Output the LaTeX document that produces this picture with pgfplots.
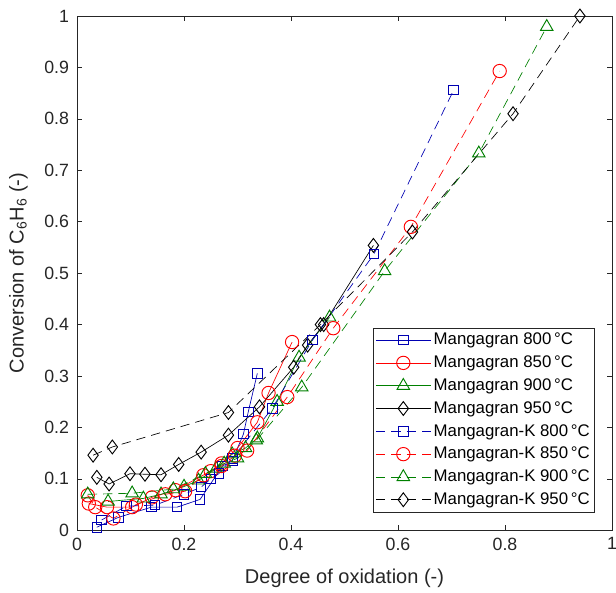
\documentclass[border=0pt]{standalone}
\usepackage{pgfplots}
\pgfplotsset{compat=1.18}
\usetikzlibrary{calc}
\usepackage{fontspec}
\setmainfont{Liberation Sans}
\definecolor{mblue}{rgb}{0,0,0.7}
\definecolor{mred}{rgb}{1,0,0}
\definecolor{mgreen}{rgb}{0,0.5,0}
\begin{document}
\begin{tikzpicture}
\begin{axis}[
  name=ax,
  scale only axis,
  width=401pt, height=385.5pt,
  xmin=0, xmax=1, ymin=0, ymax=1,
  xtick={0,0.2,...,1.0}, ytick={0,0.1,...,1.0},
  xticklabels={0,0.2,0.4,0.6,0.8,1},
  yticklabels={0,0.1,0.2,0.3,0.4,0.5,0.6,0.7,0.8,0.9,1},
  tick align=inside,
  major tick length=4pt,
  axis line style={black!85, line width=0.6pt},
  every tick/.style={black!85, line width=0.5pt},
  tick label style={font=\fontsize{13.3}{15}\selectfont, black!85},
  xticklabel style={yshift=-2pt},
  yticklabel style={xshift=-2.5pt},
  /pgf/number format/assume math mode=true,
  label style={font=\fontsize{15}{17}\selectfont, black!85},
  xlabel={Degree of oxidation (-)},
  ylabel={Conversion of C\textsubscript{6}H\textsubscript{6} (-)},
  xlabel style={at={(axis description cs:0.5,-0.0934)}, anchor=center},
  ylabel style={at={(axis description cs:-0.1097,0.5)}, anchor=center},
  legend style={at={(0.968,0.035)}, anchor=south east, draw=black!85, line width=0.5pt,
    font=\fontsize{12.6}{15}\selectfont, cells={anchor=west}, row sep=2.8pt,
    inner xsep=1.5pt, inner ysep=2pt},
  legend image code/.code={
    \draw[mark repeat=2,mark phase=2] plot coordinates {(0cm,0cm) (0.72cm,0cm) (1.44cm,0cm)};},
  every axis plot/.append style={line width=0.5pt},
]
% Mangagran 800 (solid)
\addplot[mblue, mark=square, mark size=3.6pt, mark options={solid, line width=0.7pt}] coordinates {
(0.037,0.006) (0.077,0.025) (0.139,0.045) (0.187,0.045) (0.230,0.060) (0.272,0.125) (0.290,0.135) (0.311,0.187) (0.320,0.230) (0.337,0.305)};
\addlegendentry{Mangagran 800\,°C}
% Mangagran 850 (solid)
\addplot[mred, mark=o, mark size=5pt, mark options={solid, line width=0.7pt}] coordinates {
(0.022,0.052) (0.056,0.045) (0.103,0.045) (0.140,0.064) (0.184,0.078) (0.250,0.115) (0.270,0.130) (0.300,0.160) (0.337,0.210) (0.358,0.267) (0.402,0.366)};
\addlegendentry{Mangagran 850\,°C}
% Mangagran 900 (solid)
\addplot[mgreen, mark=triangle, mark size=5.4pt, mark options={solid, line width=0.7pt}] coordinates {
(0.058,0.056) (0.124,0.062) (0.157,0.070) (0.200,0.085) (0.227,0.097) (0.260,0.120) (0.290,0.148) (0.315,0.160) (0.337,0.179) (0.374,0.250) (0.415,0.336) (0.472,0.414)};
\addlegendentry{Mangagran 900\,°C}
% Mangagran 950 (solid)
\addplot[black, mark=diamond, mark size=5.2pt, mark options={solid, line width=0.7pt}] coordinates {
(0.037,0.103) (0.060,0.090) (0.099,0.110) (0.127,0.109) (0.157,0.108) (0.190,0.128) (0.232,0.152) (0.283,0.185) (0.341,0.240) (0.405,0.317) (0.431,0.360) (0.461,0.400) (0.554,0.554)};
\addlegendentry{Mangagran 950\,°C}
% Mangagran-K 800 (dashed)
\addplot[mblue, dash pattern=on 7pt off 4.5pt, mark=square, mark size=3.6pt, mark options={solid, line width=0.7pt}] coordinates {
(0.046,0.020) (0.092,0.047) (0.146,0.049) (0.200,0.070) (0.232,0.084) (0.250,0.100) (0.265,0.110) (0.290,0.140) (0.365,0.237) (0.440,0.370) (0.555,0.537) (0.704,0.856)};
\addlegendentry{Mangagran-K 800\,°C}
% Mangagran-K 850 (dashed)
\addplot[mred, dash pattern=on 7pt off 4.5pt, mark=o, mark size=5pt, mark options={solid, line width=0.7pt}] coordinates {
(0.020,0.068) (0.034,0.045) (0.068,0.023) (0.110,0.050) (0.165,0.070) (0.202,0.076) (0.236,0.107) (0.270,0.125) (0.295,0.145) (0.318,0.155) (0.393,0.259) (0.479,0.393) (0.624,0.590) (0.790,0.893)};
\addlegendentry{Mangagran-K 850\,°C}
% Mangagran-K 900 (dashed)
\addplot[mgreen, dash pattern=on 7pt off 4.5pt, mark=triangle, mark size=5.4pt, mark options={solid, line width=0.7pt}] coordinates {
(0.020,0.070) (0.103,0.072) (0.180,0.080) (0.240,0.110) (0.275,0.130) (0.300,0.140) (0.335,0.175) (0.420,0.278) (0.575,0.504) (0.751,0.733) (0.878,0.979)};
\addlegendentry{Mangagran-K 900\,°C}
% Mangagran-K 950 (dashed)
\addplot[black, dash pattern=on 7pt off 4.5pt, mark=diamond, mark size=5.2pt, mark options={solid, line width=0.7pt}] coordinates {
(0.030,0.146) (0.066,0.162) (0.283,0.229) (0.455,0.400) (0.627,0.580) (0.815,0.810) (0.940,1.000)};
\addlegendentry{Mangagran-K 950\,°C}
\end{axis}
\pgfresetboundingbox
\useasboundingbox ($(ax.south west)+(-57.75pt,-46.5pt)$) rectangle ($(ax.north east)+(3pt,12pt)$);
\end{tikzpicture}
\end{document}
